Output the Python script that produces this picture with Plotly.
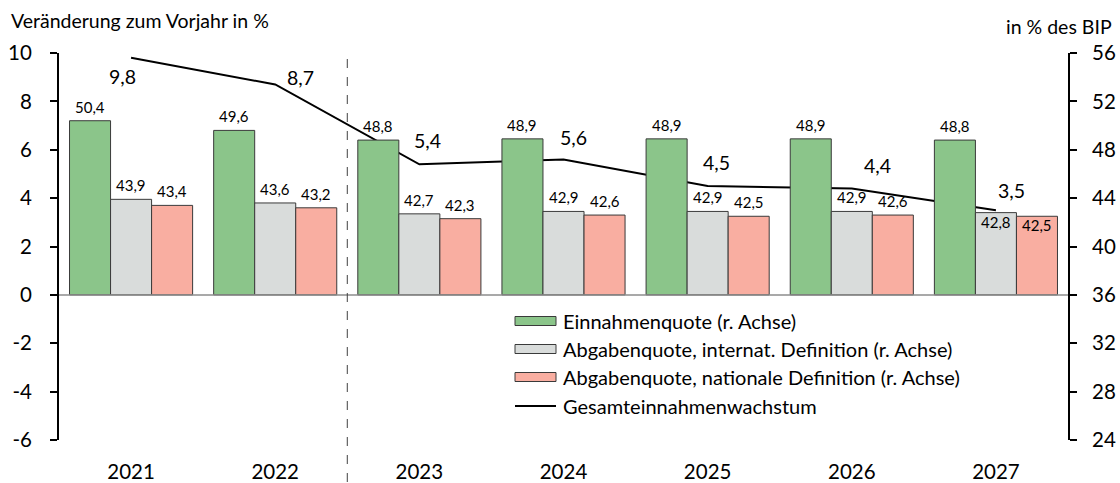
import plotly.graph_objects as go

years = ["2021", "2022", "2023", "2024", "2025", "2026", "2027"]
einnahmenquote = [50.4, 49.6, 48.8, 48.9, 48.9, 48.9, 48.8]
abgabenquote_int = [43.9, 43.6, 42.7, 42.9, 42.9, 42.9, 42.8]
abgabenquote_nat = [43.4, 43.2, 42.3, 42.6, 42.5, 42.6, 42.5]
wachstum = [9.8, 8.7, 5.4, 5.6, 4.5, 4.4, 3.5]

left_ticks = [-6, -4, -2, 0, 2, 4, 6, 8, 10]
right_ticks = [24, 28, 32, 36, 40, 44, 48, 52, 56]
BASE = 36

names = ["Einnahmenquote (r. Achse)",
         "Abgabenquote, internat. Definition (r. Achse)",
         "Abgabenquote, nationale Definition (r. Achse)",
         "Gesamteinnahmenwachstum"]
colors = ["#8BC58A", "#D9DCDB", "#F9AEA1"]

FONT = "Lato"
W, H = 1120, 483
# plot area in page pixels: x 59..1068, y 53..440
ML, MT = 59, 53
MR = W - 1068
MB = H - 440
PW, PH = W - ML - MR, H - MT - MB
BARGAP = 0.146
bw = (1 - BARGAP) / 3


def px_x(px):
    return (px - ML) / PW


def px_y(py):
    return (H - MB - py) / PH


def fmt(v):
    return f"{v:.1f}".replace(".", ",")


fig = go.Figure()
series = [einnahmenquote, abgabenquote_int, abgabenquote_nat]
for k, vals in enumerate(series):
    fig.add_trace(go.Bar(
        x=years, y=[v - BASE for v in vals], base=BASE, name=names[k],
        marker=dict(color=colors[k], line=dict(color="#3a3a3a", width=1)),
        yaxis="y2", showlegend=False,
        customdata=vals, hovertemplate="%{customdata}<extra></extra>",
    ))

fig.add_trace(go.Scatter(
    x=years, y=wachstum, mode="lines", name=names[3],
    line=dict(color="black", width=2), yaxis="y", showlegend=False,
))

annotations = []
# bar value labels
inside = {(6, 1): -9, (6, 2): -9}
for k, vals in enumerate(series):
    for i, v in enumerate(vals):
        shift = inside.get((i, k), 14)
        annotations.append(dict(
            x=i + (k - 1) * bw, y=v, xref="x", yref="y2",
            text=fmt(v), showarrow=False, yshift=shift,
            font=dict(family=FONT, size=15, color="black"),
        ))

# line labels
line_off = [(-9, -19), (25, 7), (8, 24), (10, 22), (9, 24), (26, 23), (16, 20)]
for i, v in enumerate(wachstum):
    dx, dy = line_off[i]
    annotations.append(dict(
        x=i, y=v, xref="x", yref="y", text=fmt(v), showarrow=False,
        xshift=dx, yshift=dy,
        font=dict(family=FONT, size=19.5, color="black"),
    ))

# axis titles
annotations.append(dict(
    x=px_x(9), y=px_y(20), xref="paper", yref="paper", xanchor="left",
    yanchor="middle", text="Veränderung zum Vorjahr in %", showarrow=False,
    font=dict(family=FONT, size=19.5, color="black")))
annotations.append(dict(
    x=px_x(1114), y=px_y(26), xref="paper", yref="paper", xanchor="right",
    yanchor="middle", text="in % des BIP", showarrow=False,
    font=dict(family=FONT, size=19.5, color="black")))

shapes = []
# zero line
shapes.append(dict(type="line", xref="paper", yref="y", x0=0, x1=1, y0=0, y1=0,
                   line=dict(color="#8c8c8c", width=1.5), layer="above"))
# dashed separator
shapes.append(dict(type="line", xref="x", yref="paper", x0=1.5, x1=1.5,
                   y0=px_y(482), y1=1,
                   line=dict(color="#404040", width=1, dash="dash")))

# manual legend
rows = [321, 349, 377, 406]
for r, name in enumerate(names):
    cy = rows[r]
    if r < 3:
        shapes.append(dict(type="rect", xref="paper", yref="paper",
                           x0=px_x(515), x1=px_x(556), y0=px_y(cy - 4.5), y1=px_y(cy + 4.5),
                           fillcolor=colors[r], line=dict(color="#3a3a3a", width=1)))
    else:
        shapes.append(dict(type="line", xref="paper", yref="paper",
                           x0=px_x(515), x1=px_x(556), y0=px_y(cy), y1=px_y(cy),
                           line=dict(color="black", width=2)))
    annotations.append(dict(
        x=px_x(561), y=px_y(cy), xref="paper", yref="paper", xanchor="left",
        yanchor="middle", text=name, showarrow=False,
        font=dict(family=FONT, size=20, color="black")))

fig.update_layout(
    width=W, height=H,
    margin=dict(l=ML, r=MR, t=MT, b=MB, pad=0, autoexpand=False),
    paper_bgcolor="white", plot_bgcolor="white",
    barmode="group", bargap=BARGAP, bargroupgap=0,
    font=dict(family=FONT, size=20.5, color="black"),
    showlegend=False,
    xaxis=dict(type="category", showline=False, showgrid=False, zeroline=False,
               ticks="", tickfont=dict(family=FONT, size=20.5), automargin=False,
               ticklabelstandoff=17, range=[-0.5, 6.5]),
    yaxis=dict(range=[-6, 10], tickvals=left_ticks, ticktext=[str(t) for t in left_ticks],
               showgrid=False, zeroline=False, automargin=False,
               showline=True, linecolor="black", linewidth=2,
               ticks="outside", ticklen=7, tickwidth=2, tickcolor="black",
               tickfont=dict(family=FONT, size=20.5), ticklabelstandoff=14),
    yaxis2=dict(range=[24, 56], tickvals=right_ticks, ticktext=[str(t) for t in right_ticks],
                overlaying="y", side="right",
                showgrid=False, zeroline=False, automargin=False,
                showline=True, linecolor="black", linewidth=2,
                ticks="outside", ticklen=7, tickwidth=2, tickcolor="black",
                tickfont=dict(family=FONT, size=20.5), ticklabelstandoff=11),
    annotations=annotations, shapes=shapes,
)

# remove the default page margin so the figure fills the window exactly
fig.write_html("out.html",
               config={"displayModeBar": False},
               post_script="document.body.style.margin='0';document.body.style.overflow='hidden';")
